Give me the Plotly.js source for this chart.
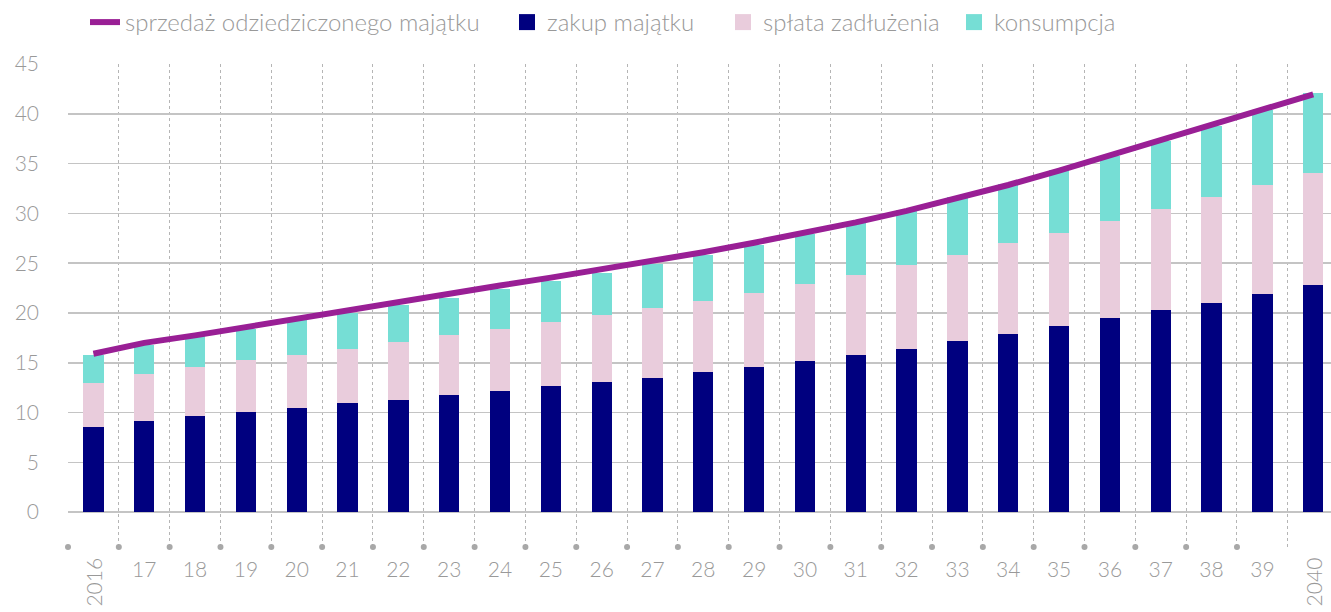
<!DOCTYPE html>
<html>
<head>
<meta charset="utf-8">
<script src="https://cdn.plot.ly/plotly-3.0.1.min.js"></script>
<style>html,body{margin:0;padding:0;background:#fff}#chart{width:1331px;height:612px}</style>
</head>
<body>
<div id="chart"></div>
<script>
const years = ['2016','17','18','19','20','21','22','23','24','25','26','27','28','29','30','31','32','33','34','35','36','37','38','39','2040'];
const zakup = [8.57,9.18,9.64,10.08,10.48,10.91,11.31,11.75,12.19,12.62,13.05,13.52,14.03,14.56,15.13,15.76,16.43,17.14,17.87,18.67,19.45,20.25,21.05,21.89,22.76];
const splata = [4.35,4.65,4.96,5.15,5.35,5.52,5.79,5.99,6.22,6.46,6.70,6.93,7.17,7.44,7.73,8.07,8.42,8.73,9.11,9.41,9.81,10.21,10.62,11.01,11.34];
const konsumpcja = [2.84,2.91,3.07,3.21,3.42,3.59,3.68,3.76,3.95,4.12,4.25,4.45,4.64,4.80,5.04,5.22,5.45,5.76,6.02,6.32,6.54,6.84,7.13,7.46,7.97];
const sprzedaz = [15.9,17.0,17.75,18.6,19.4,20.15,21.0,21.95,22.75,23.55,24.35,25.25,26.1,27.05,28.05,29.1,30.25,31.5,32.85,34.3,35.8,37.35,38.9,40.45,41.95];
const yTicks = [0,5,10,15,20,25,30,35,40,45];

const idx = years.map((_, i) => i);
const boundaries = years.slice(0, -1).map((_, i) => i - 0.5);
const yMin = -3.5;
const grey = '#999999';
const font = {family: 'Lato, "Open Sans", sans-serif', size: 21, color: grey, weight: 300};
const legendFont = Object.assign({}, font, {size: 24});
const colors = {zakup: '#00007f', splata: '#e9ccdc', kons: '#76ded5', line: '#991f95'};

function legendKey(name, color, legend) {
  return {type: 'scatter', mode: 'markers', name: name, x: [null], y: [null], legend: legend,
    marker: {symbol: 'square', size: 18, color: color}, hoverinfo: 'skip'};
}

const traces = [
  {type: 'bar', name: 'zakup majątku', x: idx, y: zakup, width: 0.4, marker: {color: colors.zakup, line: {width: 0}}, showlegend: false, hoverinfo: 'skip'},
  {type: 'bar', name: 'spłata zadłużenia', x: idx, y: splata, width: 0.4, marker: {color: colors.splata, line: {width: 0}}, showlegend: false, hoverinfo: 'skip'},
  {type: 'bar', name: 'konsumpcja', x: idx, y: konsumpcja, width: 0.4, marker: {color: colors.kons, line: {width: 0}}, showlegend: false, hoverinfo: 'skip'},
  {type: 'scatter', mode: 'lines', name: 'sprzedaż odziedziczonego majątku', x: idx, y: sprzedaz, line: {color: colors.line, width: 6}, legend: 'legend', hoverinfo: 'skip'},
  {type: 'scatter', mode: 'markers', x: boundaries, y: boundaries.map(() => yMin), marker: {color: '#a8a8a8', size: 6}, showlegend: false, cliponaxis: false, hoverinfo: 'skip'},
  legendKey('zakup majątku', colors.zakup, 'legend2'),
  legendKey('spłata zadłużenia', colors.splata, 'legend3'),
  legendKey('konsumpcja', colors.kons, 'legend4')
];

function legendAt(px) {
  return {orientation: 'h', x: px / 1331, xref: 'container', xanchor: 'left', y: 1, yanchor: 'top', yref: 'container',
    font: legendFont, itemclick: false, bgcolor: 'rgba(0,0,0,0)', itemsizing: 'trace'};
}

const layout = {
  width: 1331, height: 612,
  margin: {l: 68, r: 0, t: 64, b: 65},
  paper_bgcolor: '#fff', plot_bgcolor: '#fff',
  barmode: 'stack',
  font: font,
  showlegend: true,
  legend: legendAt(85),
  legend2: legendAt(507),
  legend3: legendAt(723),
  legend4: legendAt(954),
  xaxis: {
    range: [-0.5, 24.35], showline: false, zeroline: false, showgrid: false,
    tickvals: idx, ticktext: years.map((y, i) => (i === 0 || i === years.length - 1) ? '' : y),
    ticks: '', ticklabelstandoff: 8, tickfont: font, fixedrange: true,
    minor: {tick0: -0.5, dtick: 1, showgrid: true, griddash: 'dot', gridcolor: '#b5b5b5', gridwidth: 1, ticks: ''}
  },
  yaxis: {
    range: [yMin, 45], tickvals: yTicks, showgrid: true, gridcolor: '#c4c4c4', gridwidth: 1.5,
    zeroline: false, showline: false, ticks: '', ticklabelstandoff: 28, tickfont: font, fixedrange: true
  },
  annotations: [0, years.length - 1].map(i => ({
    x: i, xref: 'x', y: -0.018, yref: 'paper', yanchor: 'top', xanchor: 'center',
    text: years[i], textangle: -90, showarrow: false, font: font
  }))
};

Plotly.newPlot('chart', traces, layout, {displayModeBar: false, staticPlot: true});
</script>
</body>
</html>
